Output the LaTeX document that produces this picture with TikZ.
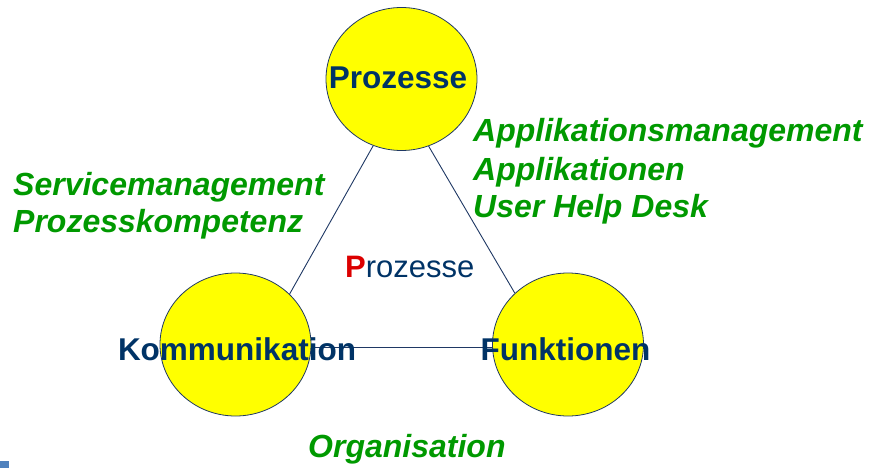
\documentclass[tikz,border=0pt]{standalone}
\usepackage{fontspec}
\setmainfont{Liberation Sans}
\usetikzlibrary{shapes.geometric}
\definecolor{navy}{RGB}{0,51,102}
\definecolor{leaf}{RGB}{0,153,0}
\definecolor{rim}{RGB}{31,56,100}
\definecolor{accent}{RGB}{220,0,0}
\definecolor{tab}{RGB}{79,129,189}
\definecolor{sun}{RGB}{255,255,0}
\tikzset{
  bubble/.style={ellipse, draw=rim, line width=0.8pt, fill=sun,
    minimum width=151pt, minimum height=143pt, inner sep=0pt},
  link/.style={draw=rim, line width=0.9pt},
  title/.style={anchor=base, inner sep=0pt, text=navy,
    font=\fontsize{31.5}{36}\selectfont\bfseries},
  note/.style={anchor=base west, inner sep=0pt, text=leaf,
    font=\fontsize{32}{37.5}\selectfont\bfseries\itshape, align=left},
}
\begin{document}
\begin{tikzpicture}[x=1pt,y=-1pt]
\useasboundingbox (0,0) rectangle (872,468);
% small tab in the lower left corner
\fill[tab] (0,461) rectangle (9,468);

% the three areas
\node[bubble] (p) at (401.5,79) {};
\node[bubble] (k) at (235.5,344.5) {};
\node[bubble] (f) at (568,344.5) {};

% edges of the triangle
\draw[link] (p.247.4) -- (k.43.3);
\draw[link] (p.292.3) -- (f.136.9);
\draw[link] (k.-2.8) -- (f.182.8);

% area titles
\node[title] (pt) at (398,89) {Prozesse};
\node[title] (kt) at (237,360) {Kommunikation};
\node[title] (ft) at (565.5,360) {Funktionen};

% centre caption
\node[anchor=base west, inner sep=0pt, text=navy,
  font=\fontsize{31}{36}\selectfont] (c) at (345,277)
  {\textcolor{accent}{\bfseries P}rozesse};

% side notes
\node[note] (r1) at (473,142) {Applikationsmanagement};
\node[note] (r2) at (473,180) {Applikationen};
\node[note] (r3) at (473,217.5) {User Help Desk};
\node[note] (l1) at (13,195) {Servicemanagement};
\node[note] (l2) at (13,232) {Prozesskompetenz};
\node[note] (o) at (308,457) {Organisation};
\end{tikzpicture}
\end{document}
